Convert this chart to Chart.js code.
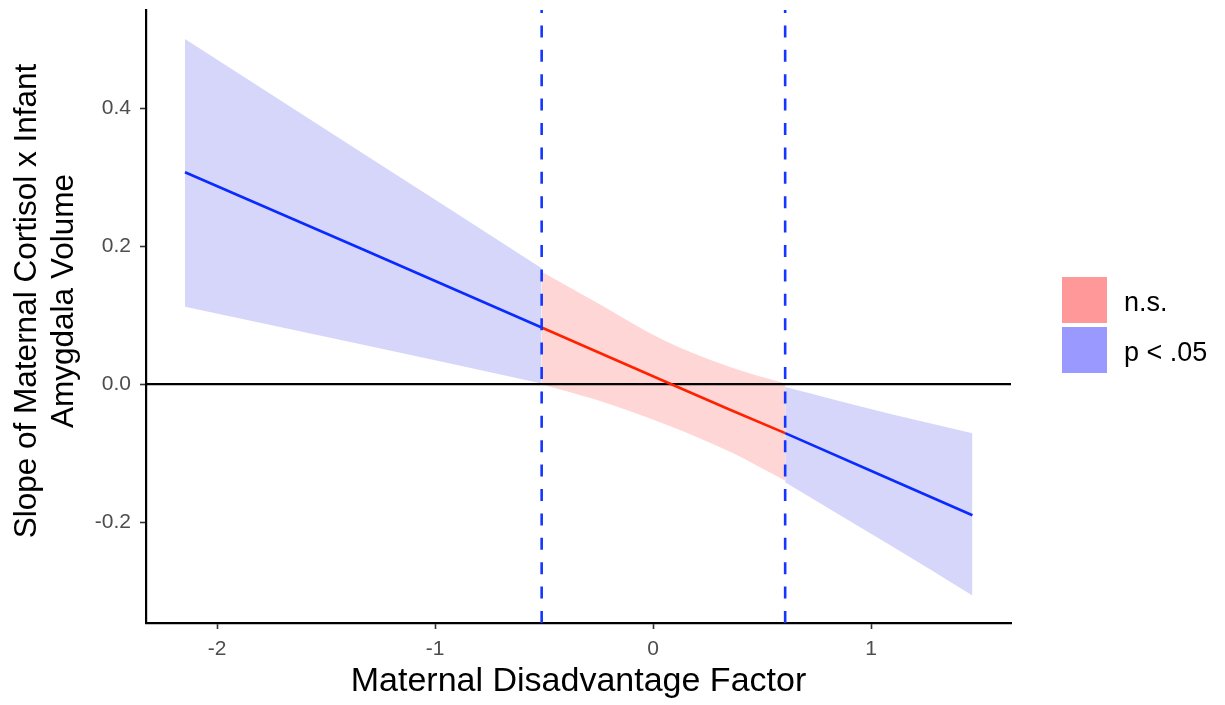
<!DOCTYPE html>
<html>
<head>
<meta charset="utf-8">
<script src="https://cdn.jsdelivr.net/npm/chart.js@4.4.1/dist/chart.umd.min.js"></script>
<style>
  html, body { margin: 0; padding: 0; background: #ffffff; }
  #wrap { width: 1225px; height: 705px; }
</style>
</head>
<body>
<div id="wrap"><canvas id="c" width="1225" height="705"></canvas></div>
<script>
// ---- data ----
const xLeft = [-2.147, -1.33, -0.511];
const estLeft = [0.307, 0.195, 0.082];
const upperLeft = [0.500, 0.334, 0.168];
const lowerLeft = [0.112, 0.057, 0.001];

const xMid = [-0.511, -0.257, 0.047, 0.353, 0.606];
const estMid = [0.082, 0.047, 0.005, -0.037, -0.071];
const upperMid = [0.163, 0.118, 0.064, 0.025, 0.001];
const lowerMid = [0.000, -0.023, -0.057, -0.098, -0.140];

const xRight = [0.606, 1.075, 1.465];
const estRight = [-0.071, -0.136, -0.190];
const upperRight = [-0.004, -0.042, -0.071];
const lowerRight = [-0.142, -0.231, -0.306];

const jnBounds = [-0.511, 0.606];          // dashed vertical lines
const xTicks = [-2, -1, 0, 1];
const yTicks = [-0.2, 0.0, 0.2, 0.4];
const xLimits = [-2.326, 1.642];
const yLimits = [-0.346, 0.542];
const yTitleLines = ['Slope of Maternal Cortisol x Infant', 'Amygdala Volume'];
const xTitle = 'Maternal Disadvantage Factor';
const legendLabels = ['n.s.', 'p < .05'];
const legendColors = ['#ff9999', '#9999ff'];

// ---- helpers ----
const pts = (xs, ys) => xs.map((x, i) => ({ x: x, y: ys[i] }));
const FONT = "'Liberation Sans', Arial, Helvetica, sans-serif";
const BLUE_LINE = '#0a2aff';
const RED_LINE = '#ff2200';
const BLUE_BAND = '#d6d6fb';
const RED_BAND = '#ffd6d6';

const base = { pointRadius: 0, pointHoverRadius: 0, tension: 0, fill: false, borderCapStyle: 'butt' };
const band = { borderWidth: 0, borderColor: 'rgba(0,0,0,0)', cubicInterpolationMode: 'monotone', order: 3 };

const datasets = [
  Object.assign({}, base, { label: 'jn1', data: [{ x: jnBounds[0], y: yLimits[0] }, { x: jnBounds[0], y: yLimits[1] }], borderColor: '#1436ff', borderWidth: 2.6, borderDash: [12, 12.4], order: 0 }),
  Object.assign({}, base, { label: 'jn2', data: [{ x: jnBounds[1], y: yLimits[0] }, { x: jnBounds[1], y: yLimits[1] }], borderColor: '#1436ff', borderWidth: 2.6, borderDash: [12, 12.4], order: 0 }),
  Object.assign({}, base, { label: 'estL', data: pts(xLeft, estLeft), borderColor: BLUE_LINE, borderWidth: 2.6, order: 1 }),
  Object.assign({}, base, { label: 'estM', data: pts(xMid, estMid), borderColor: RED_LINE, borderWidth: 2.6, order: 1 }),
  Object.assign({}, base, { label: 'estR', data: pts(xRight, estRight), borderColor: BLUE_LINE, borderWidth: 2.6, order: 1 }),
  Object.assign({}, base, { label: 'zero', data: [{ x: xLimits[0], y: 0 }, { x: xLimits[1], y: 0 }], borderColor: '#000000', borderWidth: 2.2, order: 2 }),
  Object.assign({}, base, band, { label: 'upL', data: pts(xLeft, upperLeft), backgroundColor: BLUE_BAND, fill: '+1' }),
  Object.assign({}, base, band, { label: 'loL', data: pts(xLeft, lowerLeft) }),
  Object.assign({}, base, band, { label: 'upM', data: pts(xMid, upperMid), backgroundColor: RED_BAND, fill: '+1' }),
  Object.assign({}, base, band, { label: 'loM', data: pts(xMid, lowerMid) }),
  Object.assign({}, base, band, { label: 'upR', data: pts(xRight, upperRight), backgroundColor: BLUE_BAND, fill: '+1' }),
  Object.assign({}, base, band, { label: 'loR', data: pts(xRight, lowerRight) })
];

const textPlugin = {
  id: 'customText',
  afterDraw(chart) {
    const ctx = chart.ctx;
    ctx.save();
    // legend
    const keyX = 1062, keyW = 45, keyH = 46, keyY0 = 277, step = 50;
    legendLabels.forEach((lab, i) => {
      const y = keyY0 + i * step;
      ctx.fillStyle = legendColors[i];
      ctx.fillRect(keyX, y, keyW, keyH);
      ctx.fillStyle = '#000000';
      ctx.font = '27px ' + FONT;
      ctx.textAlign = 'left';
      ctx.textBaseline = 'alphabetic';
      ctx.fillText(lab, 1124, y + keyH / 2 + 11);
    });
    // y axis title (two lines, rotated)
    ctx.fillStyle = '#000000';
    ctx.font = '31.5px ' + FONT;
    ctx.textAlign = 'center';
    ctx.textBaseline = 'alphabetic';
    const cy = 301;
    const baselines = [36, 73];
    yTitleLines.forEach((t, i) => {
      ctx.save();
      ctx.translate(baselines[i], cy);
      ctx.rotate(-Math.PI / 2);
      ctx.fillText(t, 0, 0);
      ctx.restore();
    });
    ctx.restore();
  }
};

new Chart(document.getElementById('c'), {
  type: 'line',
  data: { datasets: datasets },
  plugins: [textPlugin],
  options: {
    responsive: false,
    animation: false,
    events: [],
    layout: { padding: { top: 10, right: 214, left: 0, bottom: 0 } },
    plugins: {
      legend: { display: false },
      tooltip: { enabled: false },
      filler: { propagate: false }
    },
    scales: {
      x: {
        type: 'linear',
        min: xLimits[0],
        max: xLimits[1],
        afterBuildTicks: s => { s.ticks = xTicks.map(v => ({ value: v })); },
        afterFit: s => { s.height = 82; s.paddingLeft = 0; s.paddingRight = 0; },
        grid: { display: true, drawOnChartArea: false, drawTicks: true, tickLength: 6, tickColor: '#333333', tickWidth: 1.6 },
        border: { display: true, color: '#000000', width: 2.2 },
        ticks: {
          color: '#4d4d4d',
          font: { family: FONT, size: 21 },
          padding: 8,
          maxRotation: 0,
          callback: v => String(v)
        },
        title: {
          display: true,
          text: xTitle,
          color: '#000000',
          font: { family: FONT, size: 34 },
          padding: { top: 0, bottom: 3 }
        }
      },
      y: {
        type: 'linear',
        min: yLimits[0],
        max: yLimits[1],
        afterBuildTicks: s => { s.ticks = yTicks.map(v => ({ value: v })); },
        afterFit: s => { s.width = 146; s.paddingTop = 0; s.paddingBottom = 0; },
        grid: { display: true, drawOnChartArea: false, drawTicks: true, tickLength: 6, tickColor: '#333333', tickWidth: 1.6 },
        border: { display: true, color: '#000000', width: 2.2 },
        ticks: {
          color: '#4d4d4d',
          font: { family: FONT, size: 21 },
          padding: 9,
          callback: v => v.toFixed(1)
        },
        title: { display: false }
      }
    }
  }
});
</script>
</body>
</html>
